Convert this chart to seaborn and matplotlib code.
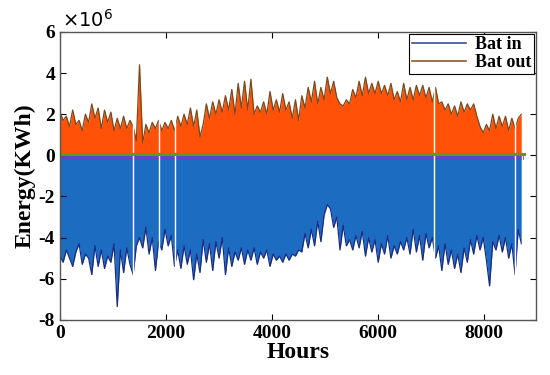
import numpy as np
import pandas as pd
import matplotlib
matplotlib.use('Agg')
import matplotlib.pyplot as plt
import seaborn as sns

hours = list(range(0, 8760, 60))

bat_out = [2.1, 1.7, 1.9, 1.4, 2.2, 1.5, 1.7, 1.2, 2.0, 1.6,
           2.5, 1.8, 2.3, 1.3, 2.2, 1.6, 2.1, 1.2, 1.8, 1.3,
           1.9, 1.3, 1.7, 1.4, 0.7, 4.4, 0.6, 1.5, 1.1, 1.6,
           1.3, 1.7, 1.2, 1.6, 1.3, 1.7, 1.2, 1.9, 1.4, 2.0,
           1.5, 2.3, 1.4, 2.2, 0.9, 1.5, 2.5, 1.8, 2.6, 2.0,
           2.7, 2.1, 2.9, 2.2, 3.2, 2.0, 3.5, 2.3, 3.6, 2.2,
           3.7, 2.0, 2.4, 2.1, 2.6, 2.0, 3.1, 2.2, 2.7, 2.1,
           3.0, 2.2, 2.6, 1.8, 2.7, 1.7, 2.9, 2.3, 3.3, 2.6,
           3.6, 2.5, 3.3, 2.7, 3.8, 3.0, 3.6, 2.8, 2.5, 2.4,
           2.7, 2.5, 3.2, 2.8, 3.6, 2.9, 3.8, 3.0, 3.5, 3.0,
           3.6, 3.0, 3.4, 2.9, 3.5, 2.7, 3.1, 2.6, 3.5, 2.7,
           3.3, 2.7, 3.4, 2.9, 3.4, 2.8, 3.3, 2.6, 3.3, 2.5,
           2.6, 2.2, 2.5, 2.0, 2.4, 1.9, 2.6, 2.1, 2.5, 2.2,
           2.5, 1.9, 1.4, 1.1, 1.5, 1.2, 2.0, 1.3, 1.9, 1.4,
           1.9, 1.2, 1.8, 1.3, 1.8, 2.0]

bat_in = [-4.9, -5.2, -4.6, -5.0, -5.4, -4.7, -4.3, -5.3, -4.8, -5.0,
          -5.8, -4.4, -5.4, -4.6, -5.5, -4.9, -5.2, -4.3, -7.35, -4.6,
          -5.7, -4.5, -5.3, -5.8, -4.4, -4.0, -4.5, -3.5, -4.8, -4.0,
          -5.6, -4.2, -4.6, -3.6, -4.4, -3.9, -5.4, -4.6, -5.5, -4.4,
          -5.3, -4.6, -6.05, -4.8, -5.7, -4.1, -5.2, -4.3, -5.6, -4.2,
          -5.0, -4.0, -5.8, -4.5, -5.4, -4.7, -5.1, -4.5, -5.3, -4.6,
          -5.1, -4.5, -5.3, -4.7, -5.0, -4.6, -5.4, -4.8, -5.1, -4.9,
          -5.2, -4.8, -5.1, -4.8, -4.9, -4.6, -4.7, -3.8, -4.5, -3.6,
          -4.4, -3.2, -4.2, -2.9, -2.4, -2.6, -3.5, -3.0, -4.6, -3.4,
          -4.4, -4.1, -4.6, -3.9, -4.5, -3.7, -4.9, -4.0, -4.7, -4.1,
          -5.2, -4.3, -4.8, -3.9, -5.0, -4.4, -4.8, -4.2, -4.6, -4.0,
          -4.8, -3.6, -4.7, -3.9, -5.1, -3.8, -4.5, -4.0, -5.0, -4.4,
          -5.6, -4.3, -5.3, -4.6, -5.5, -4.8, -5.7, -4.5, -5.2, -4.1,
          -4.8, -3.9, -4.6, -4.0, -5.1, -6.35, -4.2, -4.6, -3.9, -4.7,
          -4.0, -5.0, -4.3, -5.8, -3.6, -4.3]

# hours where both series drop to ~zero (thin gaps)
gap_hours = [1380, 1870, 2170, 7060, 8570, 8720]
last_hour = 8740

df = pd.DataFrame({'Hours': hours, 'Bat in': bat_in, 'Bat out': bat_out})

plt.rcParams['font.family'] = ['Liberation Serif', 'DejaVu Serif']
plt.rcParams['font.weight'] = 'bold'
plt.rcParams['axes.unicode_minus'] = False

fig = plt.figure(figsize=(5.5, 3.75), dpi=100)
ax = fig.add_axes([0.109, 0.147, 0.866, 0.768])

ax.fill_between(df['Hours'], 0, df['Bat out'], color='#ff5208', lw=0)
ax.fill_between(df['Hours'], 0, df['Bat in'], color='#1c6cc2', lw=0)
sns.lineplot(data=df, x='Hours', y='Bat in', ax=ax, color='#1a2c84', lw=0.9, label='_nolegend_')
sns.lineplot(data=df, x='Hours', y='Bat out', ax=ax, color='#7a4a1c', lw=0.9, label='_nolegend_')

ax.vlines(gap_hours, -8, 6, color='white', lw=1.0)
ax.fill_between([0, last_hour], -0.22, 0, color='#5a48c8', lw=0)
ax.plot([0, last_hour], [0.05, 0.05], color='#5e9a1c', lw=2.2)

ax.plot([], [], color='#3b4f9a', lw=1.2, label='Bat in')
ax.plot([], [], color='#8b5a2b', lw=1.2, label='Bat out')
leg = ax.legend(loc='upper right', fancybox=False, framealpha=1, edgecolor='black',
                borderaxespad=0.1, handlelength=3.0, borderpad=0.15, labelspacing=0.05,
                handletextpad=0.5, prop={'weight': 'bold', 'size': 13})
leg.get_frame().set_linewidth(0.8)

ax.set_xlim(0, 8980)
ax.set_ylim(-8, 6)
ax.set_xticks([0, 2000, 4000, 6000, 8000])
ax.set_yticks([-8, -6, -4, -2, 0, 2, 4, 6])
ax.tick_params(direction='in', top=True, right=True, labelsize=14, length=4, width=0.8)
for lab in ax.get_xticklabels() + ax.get_yticklabels():
    lab.set_fontweight('bold')
for s in ax.spines.values():
    s.set_color('#555555')
    s.set_linewidth(1.0)

ax.set_xlabel('Hours', fontsize=17, fontweight='bold', labelpad=0)
ax.set_ylabel('Energy(KWh)', fontsize=17, fontweight='bold', labelpad=2)
ax.text(0.005, 1.005, r'$\mathregular{\times10^6}$', transform=ax.transAxes, fontsize=14,
        fontweight='normal', family='DejaVu Sans', ha='left', va='bottom')

fig.savefig('out.png', dpi=100)
